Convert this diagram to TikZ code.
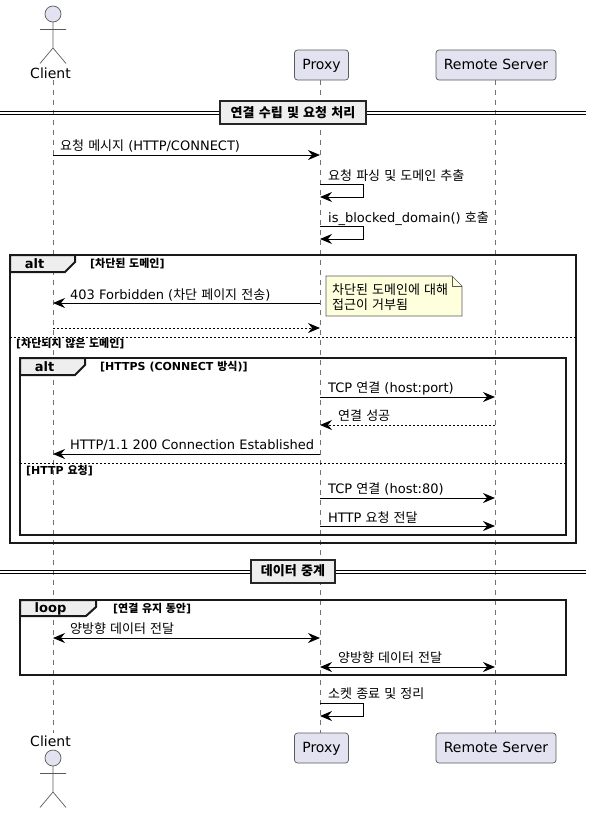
\documentclass[tikz,border=0pt]{standalone}
\usepackage{fontspec}
\setmainfont{DejaVu Sans}
\newfontfamily\krfont[WordSpace=1.42]{Noto Sans CJK KR}
\newcommand{\kr}[1]{{\krfont #1}}
\usetikzlibrary{positioning}
\usetikzlibrary{arrows.meta}
\definecolor{partFill}{HTML}{E2E2F0}
\definecolor{partLine}{HTML}{5A5A5A}
\definecolor{noteFill}{HTML}{FEFFDD}
\definecolor{tabFill}{HTML}{EEEEEE}
\tikzset{%
	% Specifications for style of nodes:
	base/.style = {inner sep=0pt, font=\fontsize{13pt}{15pt}\selectfont},
	participant/.style = {rectangle, rounded corners=3pt, draw=partLine, fill=partFill,
		line width=.7pt, minimum height=30pt, text height=11pt, text depth=3pt,
		font=\fontsize{14pt}{16pt}\selectfont},
	msgText/.style = {base, anchor=base west},
	guardText/.style = {inner sep=0pt, anchor=base west, font=\fontsize{11pt}{13pt}\selectfont\bfseries},
	tabText/.style = {inner sep=0pt, font=\fontsize{13pt}{15pt}\selectfont\bfseries},
	divider/.style = {rectangle, draw=black!85, fill=tabFill, line width=2pt, minimum height=23pt,
		inner sep=0pt, font=\fontsize{13pt}{15pt}\selectfont\bfseries},
	lifeline/.style = {draw=partLine!85, line width=.7pt, dash pattern=on 5pt off 5pt},
	msg/.style = {draw=black, line width=1pt, -{Stealth[length=12pt, width=10pt, inset=4pt]}},
	bimsg/.style = {msg, {Stealth[length=12pt, width=10pt, inset=4pt]}-{Stealth[length=12pt, width=10pt, inset=4pt]}},
	reply/.style = {msg, dash pattern=on 2pt off 2pt},
	frameBox/.style = {draw=black!90, line width=2pt},
	tabBox/.style = {draw=black!90, line width=2pt, fill=tabFill},
	sepLine/.style = {draw=black, line width=.8pt, dash pattern=on 2pt off 2pt},
	actorMan/.pic = {
		\draw[draw=partLine, fill=partFill, line width=.7pt] (0,0) circle [radius=8pt];
		\draw[draw=partLine, line width=.7pt] (0,8) -- (0,34) (-13,15.5) -- (13,15.5) (-13,49.5) -- (0,34) -- (13,49.5);
	}
}

\begin{document}
\begin{tikzpicture}[x=1pt, y=-1pt]
	\useasboundingbox (0,0) rectangle (591,814);
	% named points on the three lifelines
	\foreach \rowY in {155,184,197,226,239,303,328,397,425,454,498,526,638,667,703,716} {
		\coordinate (c\rowY) at (53,\rowY);
		\coordinate (p\rowY) at (320,\rowY);
		\coordinate (r\rowY) at (495,\rowY);
		\coordinate (s\rowY) at (363,\rowY);
	}
	\coordinate (clientTop) at (53,80);
	\coordinate (clientBottom) at (53,733);
	\node (proxyTop) [participant, minimum width=54pt] at (321.5,65) {Proxy};
	\node (serverTop) [participant, minimum width=120pt] at (496,65) {Remote Server};
	\node (proxyBottom) [participant, minimum width=54pt] at (321.5,748) {Proxy};
	\node (serverBottom) [participant, minimum width=120pt] at (496,748) {Remote Server};
	\draw[lifeline] (clientTop) -- (clientBottom);
	\draw[lifeline] (proxyTop.south -| p155) -- (proxyBottom.north -| p155);
	\draw[lifeline] (serverTop.south -| r155) -- (serverBottom.north -| r155);
	\pic at (53,14) {actorMan};
	\pic at (53,758) {actorMan};
	\node (clientTopText) [font=\fontsize{14pt}{16pt}\selectfont, inner sep=0pt] at (50.5,73) {Client};
	\node (clientBottomText) [font=\fontsize{14pt}{16pt}\selectfont, inner sep=0pt] at (50.5,741) {Client};

	% first divider
	\coordinate (divOneL) at (0,113);
	\coordinate (divOneR) at (586,113);
	\draw[line width=1pt] ([yshift=-1.6pt]divOneL) -- ([yshift=-1.6pt]divOneR) ([yshift=1.4pt]divOneL) -- ([yshift=1.4pt]divOneR);
	\node (divOne) [divider, minimum width=146pt] at (293,112.5) {\kr{연결 수립 및 요청 처리}};

	\draw[msg] (c155) -- (p155);
	\node (reqText) [msgText] at (60,150) {\kr{요청 메시지} (HTTP/CONNECT)};
	\draw[msg] (p184) -- (s184) -- (s197) -- (p197);
	\node (parseText) [msgText] at (328,180) {\kr{요청 파싱 및 도메인 추출}};
	\draw[msg] (p226) -- (s226) -- (s239) -- (p239);
	\node (blockText) [msgText] at (328,222) {is\_blocked\_domain() \kr{호출}};

	% outer alt frame
	\draw[frameBox] (10,255) rectangle (576,543);
	\draw[tabBox] (10,255) -- (75,255) -- (75,262) -- (65,272) -- (10,272) -- cycle;
	\node (altOuterText) [tabText] at (34.5,264) {alt};
	\node (guardBlocked) [guardText] at (90,267) {[\kr{차단된 도메인}]};
	\draw[msg] (p303) -- (c303);
	\node (forbidText) [msgText] at (70,299) {403 Forbidden (\kr{차단 페이지 전송})};
	\draw[draw=partLine, fill=noteFill, line width=.7pt] (326,276) -- (452,276) -- (462,286) -- (462,316) -- (326,316) -- cycle;
	\draw[draw=partLine, line width=.7pt] (452,276) -- (452,286) -- (462,286);
	\node (noteText) [base, anchor=north west, align=left, font=\fontsize{13pt}{15pt}\selectfont\krfont] at (332,283.5) {차단된 도메인에 대해\\접근이 거부됨};
	\draw[reply] (c328) -- (p328);
	\coordinate (sepOneL) at (10,337.5);
	\coordinate (sepOneR) at (576,337.5);
	\draw[sepLine] (sepOneL) -- (sepOneR);
	\node (guardAllowed) [guardText] at (16,347) {[\kr{차단되지 않은 도메인}]};

	% inner alt frame
	\draw[frameBox] (20,358) rectangle (566,535);
	\draw[tabBox] (20,358) -- (85,358) -- (85,365) -- (75,375) -- (20,375) -- cycle;
	\node (altInnerText) [tabText] at (44.5,367) {alt};
	\node (guardHttps) [guardText] at (100,370) {[HTTPS (CONNECT \kr{방식})]};
	\draw[msg] (p397) -- (r397);
	\node (tcpPortText) [msgText] at (328,392) {TCP \kr{연결} (host:port)};
	\draw[reply] (r425) -- (p425);
	\node (okText) [msgText] at (338,420) {\kr{연결 성공}};
	\draw[msg] (p454) -- (c454);
	\node (estText) [msgText] at (70,449) {HTTP/1.1 200 Connection Established};
	\coordinate (sepTwoL) at (20,463);
	\coordinate (sepTwoR) at (566,463);
	\draw[sepLine] (sepTwoL) -- (sepTwoR);
	\node (guardHttp) [guardText] at (26,474) {[HTTP \kr{요청}]};
	\draw[msg] (p498) -- (r498);
	\node (tcpEightyText) [msgText] at (328,493) {TCP \kr{연결} (host:80)};
	\draw[msg] (p526) -- (r526);
	\node (forwardText) [msgText] at (328,522) {HTTP \kr{요청 전달}};

	% second divider
	\coordinate (divTwoL) at (0,571.5);
	\coordinate (divTwoR) at (586,571.5);
	\draw[line width=1pt] ([yshift=-1.6pt]divTwoL) -- ([yshift=-1.6pt]divTwoR) ([yshift=1.4pt]divTwoL) -- ([yshift=1.4pt]divTwoR);
	\node (divTwo) [divider, minimum width=84pt] at (293,571) {\kr{데이터 중계}};

	% loop frame
	\draw[frameBox] (20,600) rectangle (566,675);
	\draw[tabBox] (20,600) -- (96,600) -- (96,607) -- (86,616) -- (20,616) -- cycle;
	\node (loopText) [tabText] at (50.5,609) {loop};
	\node (guardLoop) [guardText] at (113,612) {[\kr{연결 유지 동안}]};
	\draw[bimsg] (c638) -- (p638);
	\node (relayOneText) [msgText] at (70,633) {\kr{양방향 데이터 전달}};
	\draw[bimsg] (p667) -- (r667);
	\node (relayTwoText) [msgText] at (338,662) {\kr{양방향 데이터 전달}};
	\draw[msg] (p703) -- (s703) -- (s716) -- (p716);
	\node (closeText) [msgText] at (328,698) {\kr{소켓 종료 및 정리}};
\end{tikzpicture}
\end{document}
